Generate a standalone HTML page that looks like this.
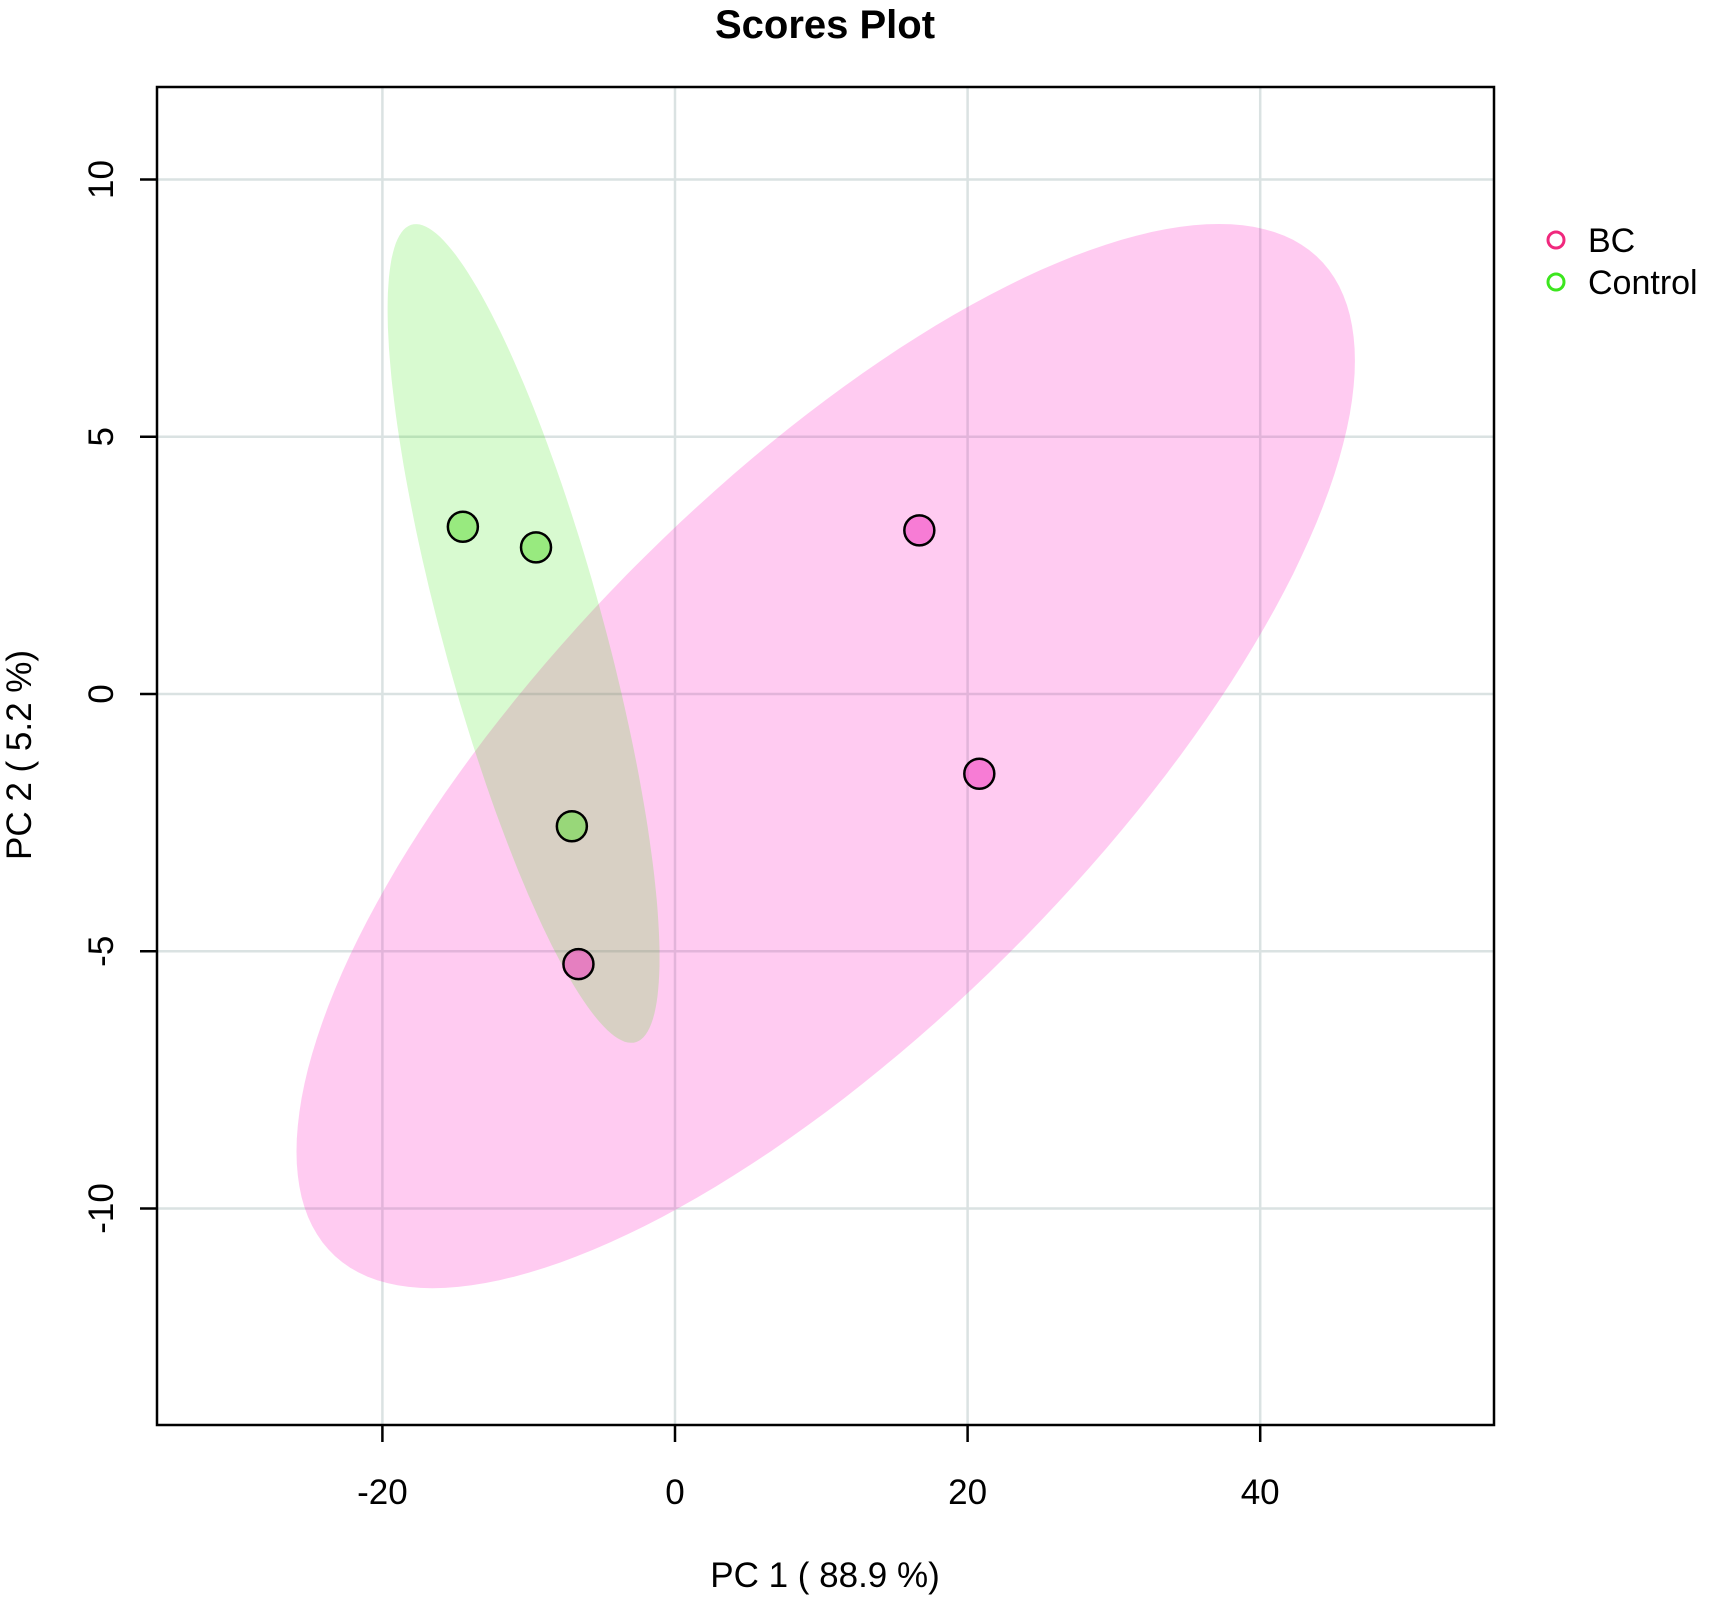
<!DOCTYPE html>
<html><head><meta charset="utf-8"><style>
html,body{margin:0;padding:0;background:#fff;}
svg{display:block;font-family:"Liberation Sans",sans-serif;}
</style></head><body>
<svg id="chart" width="1712" height="1600" viewBox="0 0 1712 1600" xmlns="http://www.w3.org/2000/svg">
<text x="825" y="38" font-size="40" font-weight="bold" text-anchor="middle">Scores Plot</text>
<g id="grid"></g>
<g id="ellipses"></g>
<g id="points"></g>
<rect x="157" y="87" width="1337" height="1338" fill="none" stroke="#000" stroke-width="2.5"/>
<g id="axes"></g>
<text x="825" y="1587" font-size="35" text-anchor="middle">PC 1 ( 88.9 %)</text>
<text transform="translate(31,755) rotate(-90)" font-size="35" text-anchor="middle">PC 2 ( 5.2 %)</text>
<g>
<circle cx="1556" cy="240" r="8" fill="none" stroke="#f0287d" stroke-width="3"/>
<text x="1588" y="252" font-size="34">BC</text>
<circle cx="1556" cy="282" r="8" fill="none" stroke="#3ce61e" stroke-width="3"/>
<text x="1588" y="294" font-size="34">Control</text>
</g>
</svg>
<script>
const groups = ["BC","Control"];
const bcX = [16.7, 20.8, -6.6];
const bcY = [3.18, -1.55, -5.25];
const ctrlX = [-14.5, -9.5, -7.05];
const ctrlY = [3.25, 2.85, -2.57];
const xTicks = [-20, 0, 20, 40];
const yTicks = [-10, -5, 0, 5, 10];

const NS = "http://www.w3.org/2000/svg";
function sx(v){ return 675 + 14.63 * v; }
function sy(v){ return 694 - 51.45 * v; }
function mk(tag, attrs, parent){
  const e = document.createElementNS(NS, tag);
  for (const k in attrs) e.setAttribute(k, attrs[k]);
  parent.appendChild(e);
  return e;
}
const grid = document.getElementById('grid');
const axes = document.getElementById('axes');
xTicks.forEach(t => {
  const l = mk('line', {x1:sx(t), x2:sx(t), y1:87, y2:1425, stroke:'#dae2e2', 'stroke-width':2.5}, grid);
  
  
  const tk = mk('line', {x1:sx(t), x2:sx(t), y1:1425, y2:1442, stroke:'#000', 'stroke-width':2.5}, axes);
  
  
  const tx = mk('text', {x:sx(t), y:1504, 'font-size':35, 'text-anchor':'middle'}, axes);
  tx.textContent = t;
  
  
});
yTicks.forEach(t => {
  const l = mk('line', {x1:157, x2:1494, y1:sy(t), y2:sy(t), stroke:'#dae2e2', 'stroke-width':2.5}, grid);
  
  
  const tk = mk('line', {x1:140, x2:157, y1:sy(t), y2:sy(t), stroke:'#000', 'stroke-width':2.5}, axes);
  
  
  const tx = mk('text', {transform:'translate(113,'+sy(t)+') rotate(-90)', 'font-size':35, 'text-anchor':'middle'}, axes);
  tx.textContent = t;
  
  
});

function ellipsePath(xs, ys){
  const n = xs.length;
  const mx = xs.reduce((a,b)=>a+b,0)/n, my = ys.reduce((a,b)=>a+b,0)/n;
  let vx=0, vy=0, cxy=0;
  for (let i=0;i<n;i++){ const dx=xs[i]-mx, dy=ys[i]-my; vx+=dx*dx; vy+=dy*dy; cxy+=dx*dy; }
  vx/=(n-1); vy/=(n-1); cxy/=(n-1);
  const a = Math.sqrt(vx), b = cxy/a, c = Math.sqrt(Math.max(vy - b*b, 1e-9));
  const k = Math.sqrt(5.991);
  let d = '';
  for (let i=0;i<=180;i++){
    const t = i/180*2*Math.PI, u = Math.cos(t), v = Math.sin(t);
    const px = mx + k*a*u, py = my + k*(b*u + c*v);
    d += (i===0?'M':'L') + sx(px).toFixed(1) + ',' + sy(py).toFixed(1);
  }
  return d + 'Z';
}
const ell = document.getElementById('ellipses');
const e1 = mk('path', {d:ellipsePath(bcX, bcY), fill:'rgb(255,20,190)', 'fill-opacity':0.22}, ell);


const e2 = mk('path', {d:ellipsePath(ctrlX, ctrlY), fill:'rgb(60,230,20)', 'fill-opacity':0.2}, ell);



const pts = document.getElementById('points');
bcX.forEach((x,i) => {
  const c = mk('circle', {cx:sx(x), cy:sy(bcY[i]), r:15, fill:'rgb(240,60,190)', 'fill-opacity':0.55, stroke:'#000', 'stroke-width':2.5}, pts);
  
  
});
ctrlX.forEach((x,i) => {
  const c = mk('circle', {cx:sx(x), cy:sy(ctrlY[i]), r:15, fill:'rgb(100,220,60)', 'fill-opacity':0.55, stroke:'#000', 'stroke-width':2.5}, pts);
  
  
});
</script>
</body></html>
